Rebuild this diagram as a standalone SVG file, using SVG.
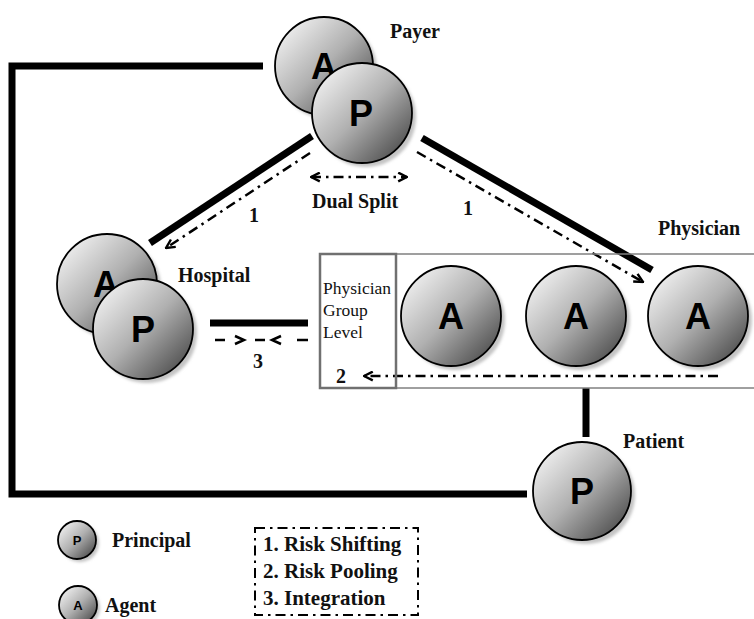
<svg xmlns="http://www.w3.org/2000/svg" width="754" height="619" viewBox="0 0 754 619">
<style>
.lbl{font-family:"Liberation Serif","Times New Roman",serif;font-weight:bold;font-size:20px;fill:#111}
.leg{font-family:"Liberation Serif","Times New Roman",serif;font-weight:bold;font-size:21px;fill:#111}
.reg{font-family:"Liberation Serif","Times New Roman",serif;font-size:17.5px;fill:#111}
.ball{fill:url(#g);stroke:#000;stroke-width:1.8}
.shd{fill:#c4c4c4;filter:url(#blur)}
.let{font-family:"Liberation Sans",Arial,sans-serif;font-weight:bold;font-size:36px;fill:#000;text-anchor:middle}
.slet{font-family:"Liberation Sans",Arial,sans-serif;font-weight:bold;font-size:13px;fill:#000;text-anchor:middle}
.thick{stroke:#000;stroke-width:7;fill:none}
.dd{stroke:#000;stroke-width:2.5;fill:none;stroke-dasharray:10 5 2.5 5}
.chev{stroke:#000;stroke-width:2.5;fill:none}
</style>
<defs>
<linearGradient id="g" x1="0.1" y1="0.1" x2="0.9" y2="0.9">
<stop offset="0" stop-color="#f0f0f0"/>
<stop offset="0.5" stop-color="#b0b0b0"/>
<stop offset="1" stop-color="#505050"/>
</linearGradient>
<filter id="blur" x="-20%" y="-20%" width="140%" height="140%"><feGaussianBlur stdDeviation="1.5"/></filter>
<marker id="arr" viewBox="0 0 10 10" refX="9" refY="5" markerWidth="11" markerHeight="11" markerUnits="userSpaceOnUse" orient="auto-start-reverse">
<path d="M1,1 L9,5 L1,9" fill="none" stroke="#000" stroke-width="2.2"/>
</marker>
</defs>

<g id="connectors">
<polyline class="thick" points="263,66 12,66 12,494 527,494" stroke-width="6"/>
<line class="thick" x1="312" y1="136" x2="150" y2="243"/>
<line class="thick" x1="422" y1="138" x2="652" y2="270"/>
<line class="dd" x1="310" y1="153" x2="166" y2="248" marker-end="url(#arr)"/>
<line class="dd" x1="417" y1="152" x2="643" y2="282" marker-end="url(#arr)"/>
<line class="dd" x1="311" y1="177" x2="407" y2="177" marker-start="url(#arr)" marker-end="url(#arr)"/>
<line class="thick" x1="210" y1="323" x2="308" y2="323"/>
<g id="integration">
<line class="chev" x1="215" y1="340" x2="225" y2="340"/>
<path class="chev" d="M235,336 L244,340 L235,344"/>
<line class="chev" x1="255" y1="340" x2="265" y2="340"/>
<path class="chev" d="M281,336 L272,340 L281,344"/>
<line class="chev" x1="297" y1="340" x2="308" y2="340"/>
</g>
<line class="dd" x1="718" y1="376" x2="364" y2="376" marker-end="url(#arr)"/>
<line class="thick" x1="586" y1="388" x2="586" y2="437" stroke-width="6"/>
</g>

<g id="payer">
<circle class="shd" cx="328" cy="70" r="49"/>
<circle class="ball" cx="324" cy="66" r="49"/>
<text class="let" x="324" y="79">A</text>
<circle class="shd" cx="366" cy="117" r="50"/>
<circle class="ball" cx="362" cy="113" r="50"/>
<text class="let" x="361" y="126">P</text>
<text class="lbl" x="390" y="38">Payer</text>
</g>

<g id="hospital">
<circle class="shd" cx="111" cy="288" r="50"/>
<circle class="ball" cx="107" cy="284" r="50"/>
<text class="let" x="106" y="297">A</text>
<circle class="shd" cx="147" cy="333" r="50"/>
<circle class="ball" cx="143" cy="329" r="50"/>
<text class="let" x="143" y="342">P</text>
<text class="lbl" x="178" y="282">Hospital</text>
</g>

<g id="physician">
<rect x="320" y="254" width="440" height="134" fill="none" stroke="#808080" stroke-width="1.5"/>
<rect x="320" y="254" width="76" height="134" fill="none" stroke="#707070" stroke-width="2.5"/>
<text class="reg" x="323" y="294">Physician</text>
<text class="reg" x="323" y="316">Group</text>
<text class="reg" x="323" y="338">Level</text>
<circle class="shd" cx="455" cy="320" r="50"/>
<circle class="ball" cx="451" cy="316" r="50"/>
<text class="let" x="451" y="329">A</text>
<circle class="shd" cx="580" cy="320" r="50"/>
<circle class="ball" cx="576" cy="316" r="50"/>
<text class="let" x="576" y="329">A</text>
<circle class="shd" cx="702" cy="320" r="50"/>
<circle class="ball" cx="698" cy="316" r="50"/>
<text class="let" x="698" y="329">A</text>
<text class="lbl" x="658" y="235">Physician</text>
</g>

<g id="patient">
<circle class="shd" cx="586" cy="495" r="49"/>
<circle class="ball" cx="582" cy="491" r="49"/>
<text class="let" x="582" y="504">P</text>
<text class="lbl" x="623" y="448">Patient</text>
</g>

<g id="labels">
<text class="lbl" x="312" y="208">Dual Split</text>
<text class="lbl" x="249" y="222">1</text>
<text class="lbl" x="463" y="215">1</text>
<text class="lbl" x="253" y="368">3</text>
<text class="lbl" x="336" y="383">2</text>
</g>

<g id="legend">
<circle class="shd" cx="80" cy="543" r="19"/>
<circle class="ball" cx="77" cy="540" r="19"/>
<text class="slet" x="77" y="545">P</text>
<text class="lbl" x="112" y="547">Principal</text>
<circle class="shd" cx="81" cy="608" r="19"/>
<circle class="ball" cx="78" cy="605" r="19"/>
<text class="slet" x="78" y="610">A</text>
<text class="lbl" x="105" y="612">Agent</text>
<rect x="255" y="528" width="163" height="87" fill="none" stroke="#000" stroke-width="2" stroke-dasharray="10 5 2.5 5"/>
<text class="leg" x="263" y="551">1. Risk Shifting</text>
<text class="leg" x="263" y="578">2. Risk Pooling</text>
<text class="leg" x="263" y="605">3. Integration</text>
</g>
</svg>
